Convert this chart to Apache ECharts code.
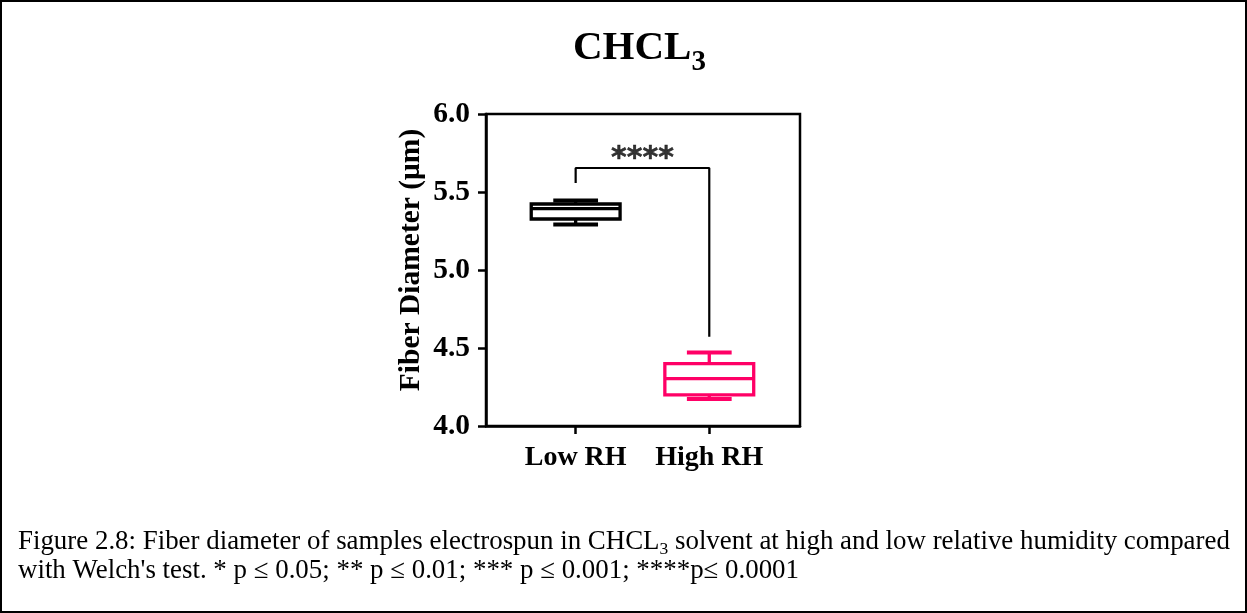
<!DOCTYPE html>
<html><head><meta charset="utf-8">
<script src="https://cdn.jsdelivr.net/npm/echarts@6/dist/echarts.min.js"></script>
<style>
html,body{margin:0;padding:0;background:#fff;}
#wrap{width:1247px;height:613px;box-sizing:border-box;border:2px solid #000;position:relative;}
#chart{position:absolute;left:-2px;top:-2px;width:1247px;height:613px;}
</style></head>
<body><div id="wrap"><div id="chart"></div></div>
<script>
// ---- data ----
const categories = ['Low RH', 'High RH'];
// [min, Q1, median, Q3, max]
const lowRH = [5.292, 5.327, 5.394, 5.423, 5.445];
const highRH = [4.173, 4.199, 4.304, 4.400, 4.471];
const yTicks = [4.0, 4.5, 5.0, 5.5, 6.0];
const sigBracket = [[1, 5.558], [1, 5.654], [2, 5.654], [2, 4.572]];
const sigLabel = '****';
const sigLabelPos = [1.5, 5.654];

const FONT = "'Liberation Serif','Times New Roman',serif";
const colors = ['#000000', '#FF0066'];

const chart = echarts.init(document.getElementById('chart'), null, {renderer: 'canvas'});

function boxRender(params, api) {
  const x = api.value(0);
  const vMin = api.value(1), q1 = api.value(2), med = api.value(3), q3 = api.value(4), vMax = api.value(5);
  const color = colors[params.dataIndex];
  const bw = api.size([0.665, 0])[0];
  const cw = api.size([0.335, 0])[0];
  const cx = api.coord([x, med])[0];
  const yMin = api.coord([x, vMin])[1];
  const yQ1 = api.coord([x, q1])[1];
  const yMed = api.coord([x, med])[1];
  const yQ3 = api.coord([x, q3])[1];
  const yMax = api.coord([x, vMax])[1];
  const lw = 3.3;
  const st = {stroke: color, lineWidth: lw, fill: null};
  return {
    type: 'group',
    children: [
      {type: 'line', shape: {x1: cx, y1: yQ3, x2: cx, y2: yMax}, style: st},
      {type: 'line', shape: {x1: cx, y1: yQ1, x2: cx, y2: yMin}, style: st},
      {type: 'line', shape: {x1: cx - cw / 2, y1: yMax, x2: cx + cw / 2, y2: yMax}, style: {stroke: color, lineWidth: 4}},
      {type: 'line', shape: {x1: cx - cw / 2, y1: yMin, x2: cx + cw / 2, y2: yMin}, style: {stroke: color, lineWidth: 4}},
      {type: 'rect', shape: {x: cx - bw / 2, y: yQ3, width: bw, height: yQ1 - yQ3}, style: {stroke: color, lineWidth: lw, fill: '#fff'}},
      {type: 'line', shape: {x1: cx - bw / 2, y1: yMed, x2: cx + bw / 2, y2: yMed}, style: st}
    ]
  };
}

const option = {
  animation: false,
  title: [
    {
      text: '{m|CHCL}{s|3}',
      left: 568, top: 23,
      textStyle: {
        rich: {
          m: {fontFamily: FONT, fontWeight: 'bold', fontSize: 41, color: '#000', verticalAlign: 'bottom', padding: [0, 0, 8, 0]},
          s: {fontFamily: FONT, fontWeight: 'bold', fontSize: 29, color: '#000', verticalAlign: 'bottom'}
        }
      }
    },
    {
      text: '{t|Figure 2.8: Fiber diameter of samples electrospun in CHCL}{u|3}{t| solvent at high and low relative humidity compared}\n{t|with Welch\'s test. * p ≤ 0.05; ** p ≤ 0.01; *** p ≤ 0.001; ****p≤ 0.0001}',
      left: 13, top: 521,
      textStyle: {
        fontWeight: 'normal',
        rich: {
          t: {fontFamily: FONT, fontWeight: 'normal', fontSize: 26.9, color: '#000', lineHeight: 29, verticalAlign: 'bottom'},
          u: {fontFamily: FONT, fontWeight: 'normal', fontSize: 17.5, color: '#000', lineHeight: 29, verticalAlign: 'bottom', padding: [0, 0, -3, 0]}
        }
      }
    }
  ],
  grid: {left: 486, right: 447, top: 114, bottom: 187, show: true, borderColor: '#000', borderWidth: 2.5, backgroundColor: 'transparent'},
  xAxis: {
    type: 'value', min: 0.329, max: 2.679,
    splitLine: {show: false},
    axisLine: {show: true, lineStyle: {color: '#000', width: 2.5}},
    axisTick: {show: true, customValues: [1, 2], length: 8, lineStyle: {color: '#000', width: 2.5}},
    axisLabel: {show: true, customValues: [1, 2], formatter: v => categories[Math.round(v) - 1] || '',
      fontFamily: FONT, fontWeight: 'bold', fontSize: 28, color: '#000', margin: 18}
  },
  yAxis: {
    type: 'value', min: yTicks[0], max: yTicks[yTicks.length - 1], interval: 0.5,
    name: 'Fiber Diameter (μm)', nameLocation: 'middle', nameGap: 60,
    nameTextStyle: {fontFamily: FONT, fontWeight: 'bold', fontSize: 29.5, color: '#000', padding: [0, 0, 0, 20]},
    splitLine: {show: false},
    axisLine: {show: true, lineStyle: {color: '#000', width: 2.5}},
    axisTick: {show: true, length: 8, lineStyle: {color: '#000', width: 2.5}},
    axisLabel: {formatter: v => v.toFixed(1), fontFamily: FONT, fontWeight: 'bold', fontSize: 29.5, color: '#000', margin: 16}
  },
  series: [
    {
      type: 'custom',
      renderItem: boxRender,
      data: [[1].concat(lowRH), [2].concat(highRH)],
      encode: {x: 0, y: [1, 2, 3, 4, 5]},
      z: 3
    },
    {
      type: 'line',
      data: sigBracket,
      symbol: 'none',
      lineStyle: {color: '#000', width: 2.2},
      z: 2
    },
    {
      type: 'scatter',
      data: [sigLabelPos],
      symbolSize: 0,
      label: {show: true, position: 'top', distance: -6, formatter: sigLabel,
        fontFamily: "'DejaVu Sans',sans-serif", fontWeight: 'bold', fontSize: 30, color: '#000',
        textBorderColor: '#000', textBorderWidth: 0.5}
    }
  ]
};
chart.setOption(option);
</script>
</body></html>
